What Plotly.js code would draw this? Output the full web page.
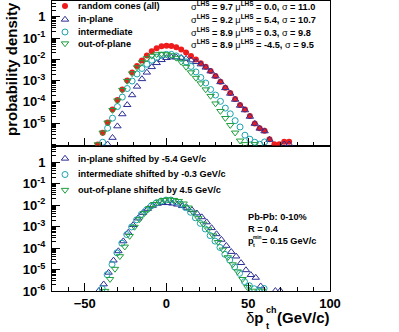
<!DOCTYPE html>
<html><head><meta charset="utf-8">
<script src="https://cdn.plot.ly/plotly-3.0.1.min.js"></script>
<style>html,body{margin:0;padding:0;background:#fff;}#chart{width:399px;height:332px;}</style>
</head><body><div id="chart"></div>
<script>
// ---------------- data ----------------
const seriesNames = ['random cones (all)', 'in-plane', 'intermediate', 'out-of-plane'];
const sigmaLHS = ['9.7', '9.2', '8.9', '8.9'];
const muLHS = ['0.0', '5.4', '0.3', '-4.5'];
const sigmaAll = ['11.0', '10.7', '9.8', '9.5'];
const shiftValues = [-5.4, -0.3, 4.5];   // in-plane, intermediate, out-of-plane
const shiftLabels = ['-5.4', '-0.3', '4.5'];

const xAll = [-42,-39,-36,-33,-30,-27,-24,-21,-18,-15,-12,-9,-6,-3,0,3,6,9,12,15,18,21,24,27,30,33,36,39,42,45,48,51,54,57,60,63,66,69,72,75];
const yAll = [1.0e-6,3.56e-6,1.06e-5,4.33e-5,1.22e-4,3.80e-4,1.01e-3,2.41e-3,4.88e-3,8.87e-3,0.0153,0.0236,0.0327,0.0406,0.0438,0.0420,0.0364,0.0293,0.0211,0.0145,9.9e-3,6.55e-3,4.53e-3,2.84e-3,1.65e-3,8.87e-4,4.62e-4,2.60e-4,1.36e-4,7.06e-5,4.33e-5,2.14e-5,9.68e-6,5.81e-6,4.43e-6,1.76e-6,1.02e-6,1.02e-6,1.34e-6,1.34e-6];

const xIn = [-36,-33,-30,-27,-24,-21,-18,-15,-12,-9,-6,-3,0,3,6,9,12,15,18,21,24,27,30,33,36,39,42,45,48,51,54,57,60,63,72,75];
const yIn = [1.02e-6,2.07e-6,7.22e-6,2.66e-5,7.22e-5,2.09e-4,5.27e-4,1.19e-3,2.41e-3,4.38e-3,6.76e-3,9.37e-3,0.01164,0.01256,0.01256,0.01189,0.01067,9.07e-3,7.54e-3,5.87e-3,4.15e-3,2.75e-3,1.60e-3,8.59e-4,4.48e-4,2.46e-4,1.28e-4,6.68e-5,4.10e-5,2.03e-5,9.47e-6,5.62e-6,4.20e-6,1.67e-6,1.02e-6,1.02e-6];

const xMid = [-39,-36,-33,-30,-27,-24,-21,-18,-15,-12,-9,-6,-3,0,3,6,9,12,15,18,21,24,27,30,33,36,39,42,45,48,51,54,57,60];
const yMid = [1.27e-6,5.81e-6,1.72e-5,6.0e-5,1.68e-4,4.24e-4,9.57e-4,2.05e-3,3.72e-3,5.87e-3,9.07e-3,0.0123,0.01528,0.01703,0.01703,0.01446,0.01102,7.54e-3,4.62e-3,2.55e-3,1.40e-3,7.70e-4,3.80e-4,2.09e-4,1.06e-4,5.10e-5,2.75e-5,1.31e-5,6.62e-6,2.72e-6,1.76e-6,1.27e-6,1.02e-6,1.31e-6];

const xOut = [-42,-39,-36,-33,-30,-27,-24,-21,-18,-15,-12,-9,-6,-3,0,3,6,9,12,15,18,21,24,27,30,33,36,39,42,45,48,54];
const yOut = [1.0e-6,3.56e-6,1.06e-5,4.10e-5,1.15e-4,3.60e-4,9.57e-4,2.16e-3,4.15e-3,7.14e-3,0.01102,0.01446,0.01703,0.01798,0.01703,0.01528,0.01164,7.54e-3,4.38e-3,2.41e-3,1.33e-3,7.30e-4,3.80e-4,1.88e-4,8.32e-5,3.68e-5,1.72e-5,8.05e-6,3.56e-6,1.50e-6,1.02e-6,1.02e-6];

const xTickVals = [-50, 0, 50, 100];
const topTickVals = [1e-5,1e-4,1e-3,1e-2,1e-1,1];
const topTickText = ['10<sup>-5</sup>','10<sup>-4</sup>','10<sup>-3</sup>','10<sup>-2</sup>','10<sup>-1</sup>','1'];
const botTickVals = [1e-6,1e-5,1e-4,1e-3,1e-2,1e-1,1];
const botTickText = ['10<sup>-6</sup>','10<sup>-5</sup>','10<sup>-4</sup>','10<sup>-3</sup>','10<sup>-2</sup>','10<sup>-1</sup>','1'];

// ---------------- styles / layout ----------------
const FONT = 'Liberation Sans, Arial, Helvetica, sans-serif';
const colors = ['#ee1c1c', '#2e2e96', '#1aa3ae', '#1f9e3c'];
const symbols = ['circle', 'triangle-up-open', 'circle-open', 'triangle-down-open'];
const sizes = [6, 6.5, 6, 6.5];
const W = 399, H = 332, PL = 52, PR = 330, PT = 1, PB = 291, PMID = 145.5;
const split = (PB - PMID) / (PB - PT);
const px2x = p => (p - PL) / (PR - PL);
const px2y = p => (PB - p) / (PB - PT);

function mk(i) {
  return {symbol: symbols[i], size: sizes[i], color: colors[i],
          line: {color: colors[i], width: i === 0 ? 0 : 1}};
}

const seriesX = [xAll, xIn, xMid, xOut];
const seriesY = [yAll, yIn, yMid, yOut];
const traces = [];
// top panel
for (let i = 0; i < 4; i++) {
  traces.push({type: 'scatter', mode: 'markers', x: seriesX[i], y: seriesY[i],
    xaxis: 'x2', yaxis: 'y2', marker: mk(i), showlegend: false, hoverinfo: 'skip'});
}
// bottom panel (shifted)
for (let i = 1; i < 4; i++) {
  const s = shiftValues[i - 1];
  traces.push({type: 'scatter', mode: 'markers', x: seriesX[i].map(v => v + s), y: seriesY[i],
    xaxis: 'x', yaxis: 'y', marker: mk(i), showlegend: false, hoverinfo: 'skip'});
}

// legend rows (pixel coordinates on an invisible overlay axis)
const topRows = [6, 19.5, 32, 43.5];
const botRows = [158.5, 174.5, 190];
const legX = 65, legTextX = 76.5, sigX = 190;
for (let i = 0; i < 4; i++) {
  traces.push({type: 'scatter', mode: 'markers', x: [legX], y: [topRows[i]], xaxis: 'x3', yaxis: 'y3',
    marker: mk(i), cliponaxis: false, showlegend: false, hoverinfo: 'skip'});
}
for (let i = 1; i < 4; i++) {
  traces.push({type: 'scatter', mode: 'markers', x: [legX], y: [botRows[i - 1]], xaxis: 'x3', yaxis: 'y3',
    marker: mk(i), cliponaxis: false, showlegend: false, hoverinfo: 'skip'});
}

const lf = {family: FONT, size: 9.2, color: '#000', weight: 'bold'};
const lfn = {family: FONT, size: 9.2, color: '#000', weight: 'normal'};
const annotations = [];
function ann(x, y, text, font, extra) {
  annotations.push(Object.assign({xref: 'paper', yref: 'paper', x: px2x(x), y: px2y(y), text: text, showarrow: false,
    xanchor: 'left', yanchor: 'middle', font: font, borderpad: 0}, extra || {}));
}
for (let i = 0; i < 4; i++) {
  ann(legTextX, topRows[i], seriesNames[i], lf);
  ann(sigX, topRows[i], 'σ<sup><b>LHS</b></sup><b> = ' + sigmaLHS[i] + ' </b>μ<sup><b>LHS</b></sup><b> = ' +
      muLHS[i] + ', </b>σ<b> = ' + sigmaAll[i] + '</b>', lfn);
}
for (let i = 1; i < 4; i++) {
  ann(legTextX, botRows[i - 1], seriesNames[i] + ' shifted by ' + shiftLabels[i - 1] + ' GeV/c', lf);
}
// info text
ann(246.5, 217, 'Pb-Pb: 0-10%', lf);
ann(246.5, 229, 'R = 0.4', lf);
ann(246.5, 240.5, 'p', lf);
ann(252, 237, 'min', {family: FONT, size: 4.8, color: '#000', weight: 'bold'});
ann(252, 244.5, 't', {family: FONT, size: 5.5, color: '#000', weight: 'bold'});
ann(260.5, 240.5, '= 0.15 GeV/c', lf);
// axis titles
const tf = {family: FONT, size: 15, color: '#000', weight: 'bold'};
ann(11, 69, 'probability density', tf, {xanchor: 'center', textangle: -90});
ann(330.5, 317.5, '(GeV/c)', tf, {xanchor: 'right'});
ann(265.3, 317.5, 'δ<b>p</b>', {family: FONT, size: 15, color: '#000', weight: 'normal'}, {xanchor: 'right'});
ann(265, 310, 'ch', {family: FONT, size: 9, color: '#000', weight: 'bold'});
ann(265, 325.5, 't', {family: FONT, size: 9.5, color: '#000', weight: 'bold'});

const tickFont = {family: FONT, size: 13, color: '#000', weight: 'bold'};
const axLine = {showline: true, linecolor: '#000', linewidth: 1, mirror: true, zeroline: false, showgrid: false};
const xCommon = Object.assign({}, axLine, {range: [-70, 100], tickmode: 'array', tickvals: xTickVals,
  ticks: 'inside', ticklen: 8, tickcolor: '#000', tickwidth: 1,
  minor: {ticks: 'inside', ticklen: 4, dtick: 10, tick0: 0, tickcolor: '#000'}});
const yCommon = Object.assign({}, axLine, {type: 'log', tickmode: 'array', ticks: 'inside', ticklen: 8,
  tickcolor: '#000', tickwidth: 1, tickfont: tickFont, ticklabelstandoff: 3,
  minor: {ticks: 'inside', ticklen: 4, dtick: 'D1', tickcolor: '#000'}});

const layout = {
  width: W, height: H,
  margin: {l: PL, r: W - PR, t: PT, b: H - PB, pad: 0},
  paper_bgcolor: '#fff', plot_bgcolor: 'rgba(0,0,0,0)',
  showlegend: false,
  xaxis: Object.assign({}, xCommon, {anchor: 'y', domain: [0, 1], tickfont: tickFont}),
  yaxis: Object.assign({}, yCommon, {anchor: 'x', domain: [0, split], range: [-6, 0.77],
    tickvals: botTickVals, ticktext: botTickText}),
  xaxis2: Object.assign({}, xCommon, {anchor: 'y2', domain: [0, 1], matches: 'x', showticklabels: false}),
  yaxis2: Object.assign({}, yCommon, {anchor: 'x2', domain: [split, 1], range: [-6.05, 0.74],
    tickvals: topTickVals, ticktext: topTickText}),
  xaxis3: {domain: [0, 1], range: [PL, PR], visible: false, anchor: 'y3', fixedrange: true},
  yaxis3: {domain: [0, 1], range: [PB, PT], visible: false, anchor: 'x3', fixedrange: true},
  annotations: annotations
};

Plotly.newPlot('chart', traces, layout, {staticPlot: true});
</script></body></html>
